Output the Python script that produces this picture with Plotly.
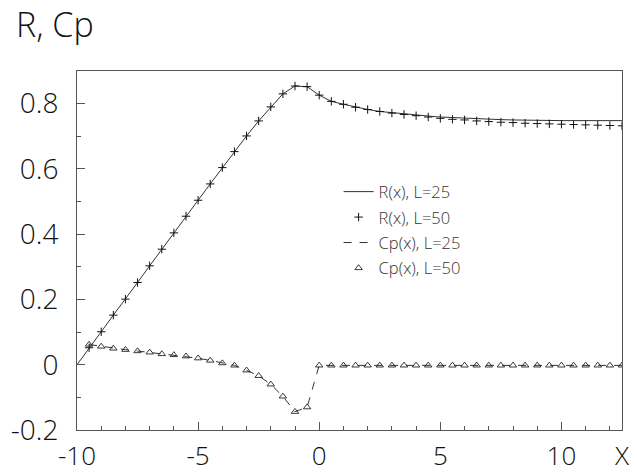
import plotly.graph_objects as go

# ---- data ----
x_r25 = [-10, -9.5, -9, -8.5, -8, -7.5, -7, -6.5, -6, -5.5, -5, -4.5, -4, -3.5, -3, -2.5,
         -2, -1.5, -1, -0.5, 0, 0.5, 1, 1.5, 2, 2.5, 3, 3.5, 4, 4.5, 5, 5.5, 6, 6.5, 7,
         7.5, 8, 8.5, 9, 9.5, 10, 10.5, 11, 11.5, 12, 12.5]
r_l25 = [0.0, 0.052, 0.101, 0.152, 0.201, 0.252, 0.303, 0.354, 0.404, 0.455, 0.504, 0.554,
         0.604, 0.653, 0.701, 0.747, 0.790, 0.830, 0.854, 0.852, 0.826, 0.807, 0.798, 0.789,
         0.782, 0.776, 0.772, 0.768, 0.765, 0.762, 0.759, 0.757, 0.755, 0.753, 0.752, 0.751,
         0.750, 0.749, 0.749, 0.748, 0.748, 0.748, 0.748, 0.748, 0.748, 0.748]

x_l50 = [-9.5, -9, -8.5, -8, -7.5, -7, -6.5, -6, -5.5, -5, -4.5, -4, -3.5, -3, -2.5,
         -2, -1.5, -1, -0.5, 0, 0.5, 1, 1.5, 2, 2.5, 3, 3.5, 4, 4.5, 5, 5.5, 6, 6.5, 7,
         7.5, 8, 8.5, 9, 9.5, 10, 10.5, 11, 11.5, 12, 12.5]
r_l50 = [0.052, 0.101, 0.152, 0.201, 0.252, 0.303, 0.354, 0.404, 0.455, 0.504, 0.554,
         0.604, 0.653, 0.701, 0.747, 0.790, 0.830, 0.854, 0.852, 0.826, 0.807, 0.798, 0.789,
         0.782, 0.776, 0.771, 0.767, 0.763, 0.759, 0.755, 0.752, 0.750, 0.747, 0.745, 0.743,
         0.742, 0.740, 0.739, 0.738, 0.737, 0.736, 0.735, 0.734, 0.733, 0.732]

cp_l25 = [0.062, 0.056, 0.050, 0.046, 0.042, 0.038, 0.033, 0.030, 0.026, 0.020, 0.013,
          0.005, -0.002, -0.017, -0.034, -0.060, -0.097, -0.144, -0.130, -0.002, -0.002,
          -0.002, -0.002, -0.002, -0.002, -0.002, -0.002, -0.002, -0.002, -0.002, -0.002,
          -0.002, -0.002, -0.002, -0.002, -0.002, -0.002, -0.002, -0.002, -0.002, -0.002,
          -0.002, -0.002, -0.002, -0.002]
cp_l50 = [0.062, 0.056, 0.050, 0.046, 0.042, 0.038, 0.033, 0.030, 0.026, 0.020, 0.013,
          0.005, -0.002, -0.017, -0.034, -0.060, -0.097, -0.144, -0.130, -0.002, -0.002,
          -0.002, -0.002, -0.002, -0.002, -0.002, -0.002, -0.002, -0.002, -0.002, -0.002,
          -0.002, -0.002, -0.002, -0.002, -0.002, -0.002, -0.002, -0.002, -0.002, -0.002,
          -0.002, -0.002, -0.002, -0.002]

x_tickvals = [-10, -5, 0, 5, 10, 12.5]
x_ticktext = ["-10", "-5", "0", "5", "10", "X"]
x_minor = [-9, -8, -7, -6, -4, -3, -2, -1, 1, 2, 3, 4, 6, 7, 8, 9, 11, 12]
y_tickvals = [-0.2, 0, 0.2, 0.4, 0.6, 0.8]
y_ticktext = ["-0.2", "0", "0.2", "0.4", "0.6", "0.8"]
y_minor = [-0.1, 0.1, 0.3, 0.5, 0.7, 0.9]

INK = "#333333"
FONT = "Open Sans"
W = 300

fig = go.Figure()
fig.add_trace(go.Scatter(x=x_r25, y=r_l25, mode="lines", name="R(x), L=25",
                         line=dict(color=INK, width=1), legendgroup="a"))
fig.add_trace(go.Scatter(x=x_l50, y=r_l50, mode="markers", name="R(x), L=50",
                         marker=dict(symbol="cross-thin", size=6,
                                     line=dict(color="#111111", width=1)),
                         legendgroup="b"))
fig.add_trace(go.Scatter(x=x_l50, y=cp_l25, mode="lines", name="Cp(x), L=25",
                         line=dict(color=INK, width=1, dash="8px,8px"), legendgroup="c"))
fig.add_trace(go.Scatter(x=x_l50, y=cp_l50, mode="markers", name="Cp(x), L=50",
                         marker=dict(symbol="triangle-up-open", size=6.5,
                                     color="#222222", line=dict(width=0.9)),
                         legendgroup="d"))

fig.update_layout(
    width=637, height=474,
    margin=dict(l=77, r=15, t=71, b=44),
    paper_bgcolor="white", plot_bgcolor="white",
    font=dict(family=FONT, color="#111111", size=28, weight=W),
    title=dict(text="R, Cp", x=16 / 637, xref="container", xanchor="left",
               y=1 - 25 / 474, yref="container", yanchor="middle",
               font=dict(family=FONT, size=34, color="#111111", weight=W)),
    showlegend=True,
    legend=dict(x=0.48, y=0.712, xanchor="left", yanchor="top",
                bgcolor="rgba(0,0,0,0)", traceorder="grouped", tracegroupgap=1,
                font=dict(family=FONT, size=16.5, color="#333333", weight=W),
                itemwidth=30),
)
fig.update_xaxes(range=[-10, 12.5], showgrid=False, zeroline=False, automargin=False,
                 showline=True, linecolor="#555555", linewidth=1, mirror=True,
                 ticks="inside", ticklen=8, tickcolor="#555555", tickwidth=1,
                 tickmode="array", tickvals=x_tickvals, ticktext=x_ticktext,
                 tickfont=dict(size=26), ticklabelstandoff=3,
                 minor=dict(ticks="inside", ticklen=4, tickcolor="#555555",
                            tickmode="array", tickvals=x_minor, showgrid=False))
fig.update_yaxes(range=[-0.2, 0.9], showgrid=False, zeroline=False, automargin=False,
                 showline=True, linecolor="#555555", linewidth=1, mirror=True,
                 ticks="inside", ticklen=8, tickcolor="#555555", tickwidth=1,
                 tickmode="array", tickvals=y_tickvals, ticktext=y_ticktext,
                 ticklabelstandoff=12,
                 minor=dict(ticks="inside", ticklen=4, tickcolor="#555555",
                            tickmode="array", tickvals=y_minor, showgrid=False))

fig.write_html("out.html")
